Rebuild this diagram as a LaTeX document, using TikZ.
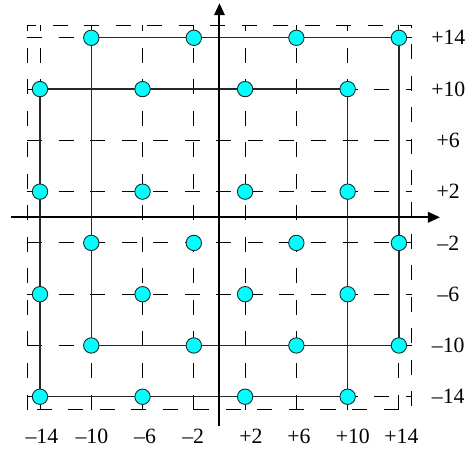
\documentclass[tikz,border=0pt]{standalone}
\usepackage{fontspec}
\setmainfont{Liberation Serif}
\usepackage{xcolor}
\usepackage{tikz}
\usetikzlibrary{arrows.meta, backgrounds}
\definecolor{dotcyan}{RGB}{0,255,255}
\definecolor{dotrim}{RGB}{25,45,45}
\definecolor{linegray}{RGB}{40,40,40}
\tikzset{
  dot/.style={circle, draw=dotrim, fill=dotcyan, minimum size=0.36cm, inner sep=0pt, line width=0.6pt},
  gridline/.style={dash pattern=on 10pt off 11pt, line width=0.6pt, color=black},
  frame/.style={line width=0.8pt, color=linegray},
  axis/.style={-{Triangle[length=8pt, width=7pt]}, line width=1.3pt, color=black},
  lbl/.style={font=\fontsize{14.5}{17}\selectfont, inner sep=0pt}
}

\begin{document}
\begin{tikzpicture}[x=0.3cm, y=0.3cm]
  \useasboundingbox (-17.12,-18.35) rectangle (19.70,16.95);

  % Constellation points (no points on row +6)
  \foreach \j/\cols in {1/{1,3,5,7}, 2/{2,4,6,8}, 3/{1,3,5,7}, 4/{2,4,6,8}, 5/{1,3,5,7}, 7/{1,3,5,7}, 8/{2,4,6,8}}
    \foreach \i in \cols
      \node[dot] (c\i-\j) at (-18+4*\i, -18+4*\j) {};

  \begin{scope}[on background layer]
    % Dashed grid
    \foreach \v in {-14,-10,...,14} {
      \draw[gridline] (\v,-15) -- (\v,15);
      \draw[gridline] (-15,\v) -- (15,\v);
    }
    \draw[gridline] (-15,-15) rectangle (15,15);

    % Two squares through the corner points
    \draw[frame] (c2-8.center) -- (c8-8.center) -- (c8-2.center) -- (c2-2.center) -- cycle;
    \draw[frame] (c1-7.center) -- (c7-7.center) -- (c7-1.center) -- (c1-1.center) -- cycle;
  \end{scope}

  % Axes
  \coordinate (xl) at (-16.3,0);
  \coordinate (xr) at (17.2,0);
  \coordinate (yb) at (0,-16.3);
  \coordinate (yt) at (0,16.7);
  \draw[axis] (xl) -- (xr);
  \draw[axis] (yb) -- (yt);

  % Level labels
  \foreach \y/\t [count=\n] in {14/+14, 10/+10, 6/+6, 2/+2, -2/\textendash2, -6/\textendash6, -10/\textendash10, -14/\textendash14}
    \node[lbl] (r\n) at (17.85,\y) {\t};
  \foreach \x/\t [count=\n] in {-13.85/\textendash14, -9.95/\textendash10, -5.8/\textendash6, -2.05/\textendash2, 2.45/+2, 6.2/+6, 10.4/+10, 14.2/+14}
    \node[lbl] (b\n) at (\x,-17.1) {\t};
\end{tikzpicture}
\end{document}
